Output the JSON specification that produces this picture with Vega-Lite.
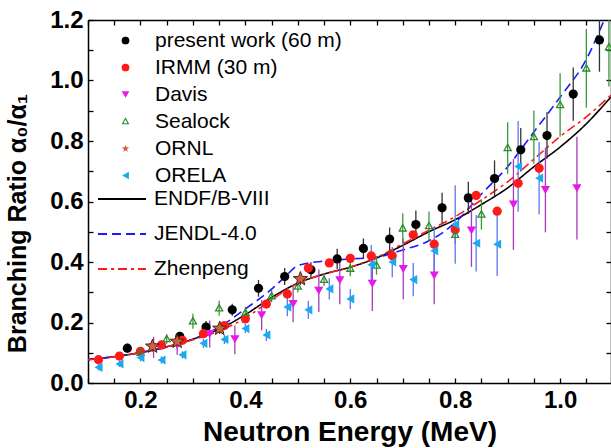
{
  "$schema": "https://vega.github.io/schema/vega-lite/v6.json",
  "width": 523,
  "height": 363,
  "autosize": {"type": "none"},
  "padding": {"left": 88, "top": 20, "right": 0, "bottom": 65},
  "background": "white",
  "config": {"view": {"stroke": null}, "axis": {"grid": false}},
  "resolve": {"axis": {"x": "independent", "y": "independent"}},
  "datasets": {
    "pts": [
      {"series": "present work (60 m)", "x": 0.175, "y": 0.115, "lo": 0.100, "hi": 0.130},
      {"series": "present work (60 m)", "x": 0.275, "y": 0.154, "lo": 0.139, "hi": 0.169},
      {"series": "present work (60 m)", "x": 0.325, "y": 0.185, "lo": 0.165, "hi": 0.205},
      {"series": "present work (60 m)", "x": 0.375, "y": 0.242, "lo": 0.222, "hi": 0.262},
      {"series": "present work (60 m)", "x": 0.425, "y": 0.313, "lo": 0.285, "hi": 0.341},
      {"series": "present work (60 m)", "x": 0.475, "y": 0.352, "lo": 0.324, "hi": 0.380},
      {"series": "present work (60 m)", "x": 0.525, "y": 0.374, "lo": 0.349, "hi": 0.399},
      {"series": "present work (60 m)", "x": 0.575, "y": 0.410, "lo": 0.376, "hi": 0.444},
      {"series": "present work (60 m)", "x": 0.625, "y": 0.445, "lo": 0.412, "hi": 0.478},
      {"series": "present work (60 m)", "x": 0.675, "y": 0.476, "lo": 0.438, "hi": 0.514},
      {"series": "present work (60 m)", "x": 0.725, "y": 0.524, "lo": 0.478, "hi": 0.570},
      {"series": "present work (60 m)", "x": 0.775, "y": 0.579, "lo": 0.529, "hi": 0.629},
      {"series": "present work (60 m)", "x": 0.825, "y": 0.612, "lo": 0.559, "hi": 0.665},
      {"series": "present work (60 m)", "x": 0.875, "y": 0.676, "lo": 0.616, "hi": 0.736},
      {"series": "present work (60 m)", "x": 0.925, "y": 0.771, "lo": 0.699, "hi": 0.843},
      {"series": "present work (60 m)", "x": 0.975, "y": 0.818, "lo": 0.741, "hi": 0.895},
      {"series": "present work (60 m)", "x": 1.025, "y": 0.955, "lo": 0.867, "hi": 1.043},
      {"series": "present work (60 m)", "x": 1.075, "y": 1.134, "lo": 1.029, "hi": 1.200},
      {"series": "IRMM (30 m)", "x": 0.12, "y": 0.077},
      {"series": "IRMM (30 m)", "x": 0.16, "y": 0.089},
      {"series": "IRMM (30 m)", "x": 0.20, "y": 0.105},
      {"series": "IRMM (30 m)", "x": 0.24, "y": 0.126},
      {"series": "IRMM (30 m)", "x": 0.28, "y": 0.141},
      {"series": "IRMM (30 m)", "x": 0.32, "y": 0.163},
      {"series": "IRMM (30 m)", "x": 0.36, "y": 0.190},
      {"series": "IRMM (30 m)", "x": 0.40, "y": 0.212},
      {"series": "IRMM (30 m)", "x": 0.44, "y": 0.261},
      {"series": "IRMM (30 m)", "x": 0.48, "y": 0.294},
      {"series": "IRMM (30 m)", "x": 0.52, "y": 0.380},
      {"series": "IRMM (30 m)", "x": 0.56, "y": 0.397},
      {"series": "IRMM (30 m)", "x": 0.60, "y": 0.412},
      {"series": "IRMM (30 m)", "x": 0.64, "y": 0.420},
      {"series": "IRMM (30 m)", "x": 0.68, "y": 0.421},
      {"series": "IRMM (30 m)", "x": 0.72, "y": 0.490},
      {"series": "IRMM (30 m)", "x": 0.76, "y": 0.459},
      {"series": "IRMM (30 m)", "x": 0.80, "y": 0.507},
      {"series": "IRMM (30 m)", "x": 0.84, "y": 0.620},
      {"series": "IRMM (30 m)", "x": 0.88, "y": 0.568},
      {"series": "IRMM (30 m)", "x": 0.92, "y": 0.660},
      {"series": "IRMM (30 m)", "x": 0.96, "y": 0.710},
      {"series": "Davis", "x": 0.225, "y": 0.118, "lo": 0.083, "hi": 0.153},
      {"series": "Davis", "x": 0.270, "y": 0.125, "lo": 0.093, "hi": 0.157},
      {"series": "Davis", "x": 0.332, "y": 0.162, "lo": 0.117, "hi": 0.207},
      {"series": "Davis", "x": 0.380, "y": 0.145, "lo": 0.095, "hi": 0.190},
      {"series": "Davis", "x": 0.431, "y": 0.224, "lo": 0.174, "hi": 0.274},
      {"series": "Davis", "x": 0.491, "y": 0.261, "lo": 0.201, "hi": 0.321},
      {"series": "Davis", "x": 0.540, "y": 0.305, "lo": 0.235, "hi": 0.375},
      {"series": "Davis", "x": 0.580, "y": 0.340, "lo": 0.260, "hi": 0.420},
      {"series": "Davis", "x": 0.642, "y": 0.328, "lo": 0.238, "hi": 0.418},
      {"series": "Davis", "x": 0.701, "y": 0.377, "lo": 0.277, "hi": 0.477},
      {"series": "Davis", "x": 0.760, "y": 0.355, "lo": 0.260, "hi": 0.450},
      {"series": "Davis", "x": 0.831, "y": 0.504, "lo": 0.384, "hi": 0.624},
      {"series": "Davis", "x": 0.911, "y": 0.590, "lo": 0.440, "hi": 0.740},
      {"series": "Davis", "x": 0.972, "y": 0.638, "lo": 0.498, "hi": 0.778},
      {"series": "Davis", "x": 1.032, "y": 0.644, "lo": 0.474, "hi": 0.814},
      {"series": "Sealock", "x": 0.20, "y": 0.100, "lo": 0.090, "hi": 0.110},
      {"series": "Sealock", "x": 0.25, "y": 0.145, "lo": 0.130, "hi": 0.160},
      {"series": "Sealock", "x": 0.30, "y": 0.204, "lo": 0.179, "hi": 0.229},
      {"series": "Sealock", "x": 0.35, "y": 0.247, "lo": 0.222, "hi": 0.272},
      {"series": "Sealock", "x": 0.40, "y": 0.232, "lo": 0.212, "hi": 0.252},
      {"series": "Sealock", "x": 0.45, "y": 0.287, "lo": 0.267, "hi": 0.307},
      {"series": "Sealock", "x": 0.50, "y": 0.319, "lo": 0.299, "hi": 0.339},
      {"series": "Sealock", "x": 0.55, "y": 0.341, "lo": 0.321, "hi": 0.361},
      {"series": "Sealock", "x": 0.60, "y": 0.378, "lo": 0.353, "hi": 0.403},
      {"series": "Sealock", "x": 0.65, "y": 0.388, "lo": 0.358, "hi": 0.418},
      {"series": "Sealock", "x": 0.70, "y": 0.511, "lo": 0.461, "hi": 0.561},
      {"series": "Sealock", "x": 0.75, "y": 0.519, "lo": 0.471, "hi": 0.567},
      {"series": "Sealock", "x": 0.80, "y": 0.490, "lo": 0.460, "hi": 0.520},
      {"series": "Sealock", "x": 0.85, "y": 0.557, "lo": 0.507, "hi": 0.607},
      {"series": "Sealock", "x": 0.90, "y": 0.777, "lo": 0.692, "hi": 0.862},
      {"series": "Sealock", "x": 0.95, "y": 0.813, "lo": 0.725, "hi": 0.901},
      {"series": "Sealock", "x": 1.00, "y": 0.919, "lo": 0.814, "hi": 1.024},
      {"series": "Sealock", "x": 1.05, "y": 1.040, "lo": 0.910, "hi": 1.170},
      {"series": "Sealock", "x": 1.093, "y": 1.110, "lo": 0.980, "hi": 1.200},
      {"series": "ORNL", "x": 0.223, "y": 0.121, "lo": 0.104, "hi": 0.138},
      {"series": "ORNL", "x": 0.270, "y": 0.137, "lo": 0.120, "hi": 0.154},
      {"series": "ORNL", "x": 0.351, "y": 0.180, "lo": 0.162, "hi": 0.198},
      {"series": "ORNL", "x": 0.505, "y": 0.344, "lo": 0.324, "hi": 0.364},
      {"series": "ORELA", "x": 0.12, "y": 0.052, "lo": 0.042, "hi": 0.062},
      {"series": "ORELA", "x": 0.16, "y": 0.063, "lo": 0.053, "hi": 0.073},
      {"series": "ORELA", "x": 0.20, "y": 0.084, "lo": 0.072, "hi": 0.096},
      {"series": "ORELA", "x": 0.24, "y": 0.076, "lo": 0.064, "hi": 0.088},
      {"series": "ORELA", "x": 0.28, "y": 0.093, "lo": 0.081, "hi": 0.105},
      {"series": "ORELA", "x": 0.32, "y": 0.131, "lo": 0.116, "hi": 0.146},
      {"series": "ORELA", "x": 0.36, "y": 0.144, "lo": 0.129, "hi": 0.159},
      {"series": "ORELA", "x": 0.40, "y": 0.180, "lo": 0.165, "hi": 0.195},
      {"series": "ORELA", "x": 0.44, "y": 0.159, "lo": 0.139, "hi": 0.179},
      {"series": "ORELA", "x": 0.48, "y": 0.251, "lo": 0.221, "hi": 0.281},
      {"series": "ORELA", "x": 0.52, "y": 0.242, "lo": 0.212, "hi": 0.272},
      {"series": "ORELA", "x": 0.56, "y": 0.311, "lo": 0.276, "hi": 0.346},
      {"series": "ORELA", "x": 0.60, "y": 0.278, "lo": 0.245, "hi": 0.311},
      {"series": "ORELA", "x": 0.64, "y": 0.391, "lo": 0.326, "hi": 0.456},
      {"series": "ORELA", "x": 0.68, "y": 0.400, "lo": 0.350, "hi": 0.450},
      {"series": "ORELA", "x": 0.72, "y": 0.342, "lo": 0.287, "hi": 0.397},
      {"series": "ORELA", "x": 0.76, "y": 0.437, "lo": 0.357, "hi": 0.517},
      {"series": "ORELA", "x": 0.80, "y": 0.524, "lo": 0.394, "hi": 0.654},
      {"series": "ORELA", "x": 0.84, "y": 0.462, "lo": 0.369, "hi": 0.555},
      {"series": "ORELA", "x": 0.88, "y": 0.459, "lo": 0.354, "hi": 0.564},
      {"series": "ORELA", "x": 0.92, "y": 0.716, "lo": 0.566, "hi": 0.866},
      {"series": "ORELA", "x": 0.96, "y": 0.677, "lo": 0.557, "hi": 0.797}
    ],
    "curves": [
      {"model": "ENDF/B-VIII", "x": 0.10, "y": 0.077},
      {"model": "ENDF/B-VIII", "x": 0.15, "y": 0.087},
      {"model": "ENDF/B-VIII", "x": 0.20, "y": 0.101},
      {"model": "ENDF/B-VIII", "x": 0.25, "y": 0.120},
      {"model": "ENDF/B-VIII", "x": 0.30, "y": 0.145},
      {"model": "ENDF/B-VIII", "x": 0.35, "y": 0.178},
      {"model": "ENDF/B-VIII", "x": 0.40, "y": 0.226},
      {"model": "ENDF/B-VIII", "x": 0.45, "y": 0.283},
      {"model": "ENDF/B-VIII", "x": 0.50, "y": 0.330},
      {"model": "ENDF/B-VIII", "x": 0.55, "y": 0.360},
      {"model": "ENDF/B-VIII", "x": 0.60, "y": 0.383},
      {"model": "ENDF/B-VIII", "x": 0.65, "y": 0.413},
      {"model": "ENDF/B-VIII", "x": 0.70, "y": 0.455},
      {"model": "ENDF/B-VIII", "x": 0.75, "y": 0.500},
      {"model": "ENDF/B-VIII", "x": 0.80, "y": 0.540},
      {"model": "ENDF/B-VIII", "x": 0.85, "y": 0.590},
      {"model": "ENDF/B-VIII", "x": 0.90, "y": 0.645},
      {"model": "ENDF/B-VIII", "x": 0.95, "y": 0.715},
      {"model": "ENDF/B-VIII", "x": 1.00, "y": 0.780},
      {"model": "ENDF/B-VIII", "x": 1.05, "y": 0.857},
      {"model": "ENDF/B-VIII", "x": 1.097, "y": 0.946},
      {"model": "JENDL-4.0", "x": 0.10, "y": 0.078},
      {"model": "JENDL-4.0", "x": 0.15, "y": 0.087},
      {"model": "JENDL-4.0", "x": 0.20, "y": 0.100},
      {"model": "JENDL-4.0", "x": 0.25, "y": 0.118},
      {"model": "JENDL-4.0", "x": 0.30, "y": 0.145},
      {"model": "JENDL-4.0", "x": 0.35, "y": 0.185},
      {"model": "JENDL-4.0", "x": 0.40, "y": 0.245},
      {"model": "JENDL-4.0", "x": 0.45, "y": 0.310},
      {"model": "JENDL-4.0", "x": 0.475, "y": 0.350},
      {"model": "JENDL-4.0", "x": 0.50, "y": 0.388},
      {"model": "JENDL-4.0", "x": 0.55, "y": 0.403},
      {"model": "JENDL-4.0", "x": 0.60, "y": 0.410},
      {"model": "JENDL-4.0", "x": 0.65, "y": 0.416},
      {"model": "JENDL-4.0", "x": 0.70, "y": 0.440},
      {"model": "JENDL-4.0", "x": 0.75, "y": 0.470},
      {"model": "JENDL-4.0", "x": 0.80, "y": 0.530},
      {"model": "JENDL-4.0", "x": 0.85, "y": 0.625},
      {"model": "JENDL-4.0", "x": 0.90, "y": 0.715},
      {"model": "JENDL-4.0", "x": 0.95, "y": 0.830},
      {"model": "JENDL-4.0", "x": 1.00, "y": 0.945},
      {"model": "JENDL-4.0", "x": 1.05, "y": 1.070},
      {"model": "JENDL-4.0", "x": 1.084, "y": 1.200},
      {"model": "Zhenpeng", "x": 0.10, "y": 0.077},
      {"model": "Zhenpeng", "x": 0.15, "y": 0.087},
      {"model": "Zhenpeng", "x": 0.20, "y": 0.101},
      {"model": "Zhenpeng", "x": 0.25, "y": 0.120},
      {"model": "Zhenpeng", "x": 0.30, "y": 0.143},
      {"model": "Zhenpeng", "x": 0.35, "y": 0.172},
      {"model": "Zhenpeng", "x": 0.40, "y": 0.215},
      {"model": "Zhenpeng", "x": 0.45, "y": 0.275},
      {"model": "Zhenpeng", "x": 0.50, "y": 0.330},
      {"model": "Zhenpeng", "x": 0.55, "y": 0.360},
      {"model": "Zhenpeng", "x": 0.60, "y": 0.383},
      {"model": "Zhenpeng", "x": 0.65, "y": 0.415},
      {"model": "Zhenpeng", "x": 0.70, "y": 0.460},
      {"model": "Zhenpeng", "x": 0.75, "y": 0.505},
      {"model": "Zhenpeng", "x": 0.80, "y": 0.550},
      {"model": "Zhenpeng", "x": 0.85, "y": 0.605},
      {"model": "Zhenpeng", "x": 0.90, "y": 0.665},
      {"model": "Zhenpeng", "x": 0.95, "y": 0.740},
      {"model": "Zhenpeng", "x": 1.00, "y": 0.815},
      {"model": "Zhenpeng", "x": 1.05, "y": 0.880},
      {"model": "Zhenpeng", "x": 1.097, "y": 0.952}
    ]
  },
  "layer": [
    {
      "data": {"name": "curves"},
      "mark": {"type": "line", "strokeWidth": 1.6, "interpolate": "monotone"},
      "encoding": {
        "x": {"field": "x", "type": "quantitative",
          "scale": {"domain": [0.1, 1.097], "nice": false, "zero": false},
          "axis": {"orient": "bottom", "values": [0.1, 0.15, 0.2, 0.25, 0.3, 0.35, 0.4, 0.45, 0.5, 0.55, 0.6, 0.65, 0.7, 0.75, 0.8, 0.85, 0.9, 0.95, 1.0, 1.05],
            "labelExpr": "round(datum.value * 20) % 4 === 0 ? format(datum.value, '.1f') : ''",
            "title": "Neutron Energy (MeV)", "labelFont": "Liberation Sans", "labelFontSize": 24, "labelFontWeight": "bold", "labelColor": "black",
            "labelPadding": 10, "labelFlush": false, "labelOverlap": false,
            "tickSize": -5, "tickWidth": 1.3, "tickColor": "black", "domainColor": "black", "domainWidth": 1.5,
            "titleFont": "Liberation Sans", "titleFontSize": 28, "titleFontWeight": "bold", "titleColor": "black", "titlePadding": 6}},
        "y": {"field": "y", "type": "quantitative",
          "scale": {"domain": [0, 1.2], "nice": false, "zero": false},
          "axis": {"orient": "left", "values": [0, 0.1, 0.2, 0.3, 0.4, 0.5, 0.6, 0.7, 0.8, 0.9, 1.0, 1.1, 1.2],
            "labelExpr": "round(datum.value * 10) % 2 === 0 ? format(datum.value, '.1f') : ''",
            "title": "Branching Ratio α₀/α₁", "labelFont": "Liberation Sans", "labelFontSize": 24, "labelFontWeight": "bold", "labelColor": "black",
            "labelPadding": 10, "labelFlush": false, "labelOverlap": false,
            "tickSize": -5, "tickWidth": 1.3, "tickColor": "black", "domainColor": "black", "domainWidth": 1.5,
            "titleFont": "Liberation Sans", "titleFontSize": 25, "titleFontWeight": "bold", "titleColor": "black", "titlePadding": 19, "titleY": 203}},
        "stroke": {"field": "model", "type": "nominal",
          "scale": {"domain": ["ENDF/B-VIII", "JENDL-4.0", "Zhenpeng"], "range": ["#000000", "#1a1aff", "#ff1a1a"]},
          "legend": {"title": null, "orient": "none", "legendX": 9, "legendY": 154, "padding": 0,
            "labelFont": "Liberation Sans", "labelFontSize": 21, "labelColor": "black", "labelOffset": 7, "labelLimit": 400,
            "symbolType": "stroke", "symbolSize": 2304, "symbolStrokeWidth": 2, "rowPadding": -7.1}},
        "strokeDash": {"field": "model", "type": "nominal",
          "scale": {"domain": ["ENDF/B-VIII", "JENDL-4.0", "Zhenpeng"], "range": [[1, 0], [9, 5], [9, 4, 3, 4]]}}
      }
    },
    {
      "data": {"name": "pts"},
      "transform": [{"filter": "datum.series === 'present work (60 m)'"}],
      "mark": {"type": "rule", "strokeWidth": 1.3, "color": "#333333"},
      "encoding": {
        "x": {"field": "x", "type": "quantitative",
          "axis": {"orient": "top", "values": [0.1, 0.15, 0.2, 0.25, 0.3, 0.35, 0.4, 0.45, 0.5, 0.55, 0.6, 0.65, 0.7, 0.75, 0.8, 0.85, 0.9, 0.95, 1.0, 1.05],
            "labels": false, "title": null, "tickSize": -5, "tickWidth": 1.3, "tickColor": "black", "domainColor": "black", "domainWidth": 1.5}},
        "y": {"field": "lo", "type": "quantitative",
          "axis": {"orient": "right", "values": [0.1, 0.2, 0.3, 0.4, 0.5, 0.6, 0.7, 0.8, 0.9, 1.0, 1.1],
            "labels": false, "title": null, "tickSize": -5, "tickWidth": 1.3, "tickColor": "black", "domainColor": "black", "domainWidth": 1.5}},
        "y2": {"field": "hi"}
      }
    },
    {
      "data": {"name": "pts"},
      "transform": [{"filter": "datum.series === 'Davis'"}],
      "mark": {"type": "rule", "strokeWidth": 1.3, "color": "#a83cb8"},
      "encoding": {
        "x": {"field": "x", "type": "quantitative", "axis": null},
        "y": {"field": "lo", "type": "quantitative", "axis": null},
        "y2": {"field": "hi"}
      }
    },
    {
      "data": {"name": "pts"},
      "transform": [{"filter": "datum.series === 'Sealock'"}],
      "mark": {"type": "rule", "strokeWidth": 1.3, "color": "#3a9a3a"},
      "encoding": {
        "x": {"field": "x", "type": "quantitative", "axis": null},
        "y": {"field": "lo", "type": "quantitative", "axis": null},
        "y2": {"field": "hi"}
      }
    },
    {
      "data": {"name": "pts"},
      "transform": [{"filter": "datum.series === 'ORELA'"}],
      "mark": {"type": "rule", "strokeWidth": 1.3, "color": "#5a78f0"},
      "encoding": {
        "x": {"field": "x", "type": "quantitative", "axis": null},
        "y": {"field": "lo", "type": "quantitative", "axis": null},
        "y2": {"field": "hi"}
      }
    },
    {
      "data": {"name": "pts"},
      "transform": [{"filter": "datum.series === 'ORNL'"}],
      "mark": {"type": "rule", "strokeWidth": 1.2, "color": "#333333"},
      "encoding": {
        "x": {"field": "x", "type": "quantitative", "axis": null},
        "y": {"field": "lo", "type": "quantitative", "axis": null},
        "y2": {"field": "hi"}
      }
    },
    {
      "data": {"name": "pts"},
      "transform": [{"filter": "datum.series !== 'ORNL'"}],
      "mark": {"type": "point", "filled": true, "size": 85, "opacity": 1},
      "encoding": {
        "x": {"field": "x", "type": "quantitative", "axis": null},
        "y": {"field": "y", "type": "quantitative", "axis": null},
        "color": {"field": "series", "type": "nominal",
          "scale": {"domain": ["present work (60 m)", "IRMM (30 m)", "Davis", "Sealock", "ORNL", "ORELA"],
            "range": ["#000000", "#ff1a1a", "#e619e6", "#2e8b2e", "#d0603c", "#1aaaf0"]},
          "legend": {"title": null, "orient": "none", "legendX": 27, "legendY": 10, "padding": 0,
            "labelFont": "Liberation Sans", "labelFontSize": 21, "labelColor": "black", "labelOffset": 19, "labelLimit": 400,
            "symbolSize": 60, "rowPadding": 5, "symbolOpacity": 1}},
        "shape": {"field": "series", "type": "nominal",
          "scale": {"domain": ["present work (60 m)", "IRMM (30 m)", "Davis", "Sealock", "ORNL", "ORELA"],
            "range": ["circle", "circle", "triangle-down",
              "M0,-1.1L1,0.7L-1,0.7ZM0,-0.52L-0.52,0.42L0.52,0.42Z",
              "M0,-1L0.247,-0.34L0.951,-0.309L0.4,0.13L0.588,0.809L0,0.42L-0.588,0.809L-0.4,0.13L-0.951,-0.309L-0.247,-0.34Z",
              "triangle-left"]}}
      }
    },
    {
      "data": {"name": "pts"},
      "transform": [{"filter": "datum.series === 'ORNL'"}],
      "mark": {"type": "point", "filled": true, "size": 220, "opacity": 1},
      "encoding": {
        "x": {"field": "x", "type": "quantitative", "axis": null},
        "y": {"field": "y", "type": "quantitative", "axis": null},
        "color": {"field": "series", "type": "nominal"},
        "shape": {"field": "series", "type": "nominal"}
      }
    },
    {
      "data": {"name": "pts"},
      "transform": [{"filter": "datum.series === 'ORNL'"}],
      "mark": {"type": "point", "filled": false, "size": 220, "opacity": 1, "color": "#4a2412", "strokeWidth": 1,
        "shape": "M0,-1L0.247,-0.34L0.951,-0.309L0.4,0.13L0.588,0.809L0,0.42L-0.588,0.809L-0.4,0.13L-0.951,-0.309L-0.247,-0.34Z"},
      "encoding": {
        "x": {"field": "x", "type": "quantitative", "axis": null},
        "y": {"field": "y", "type": "quantitative", "axis": null}
      }
    }
  ]
}
